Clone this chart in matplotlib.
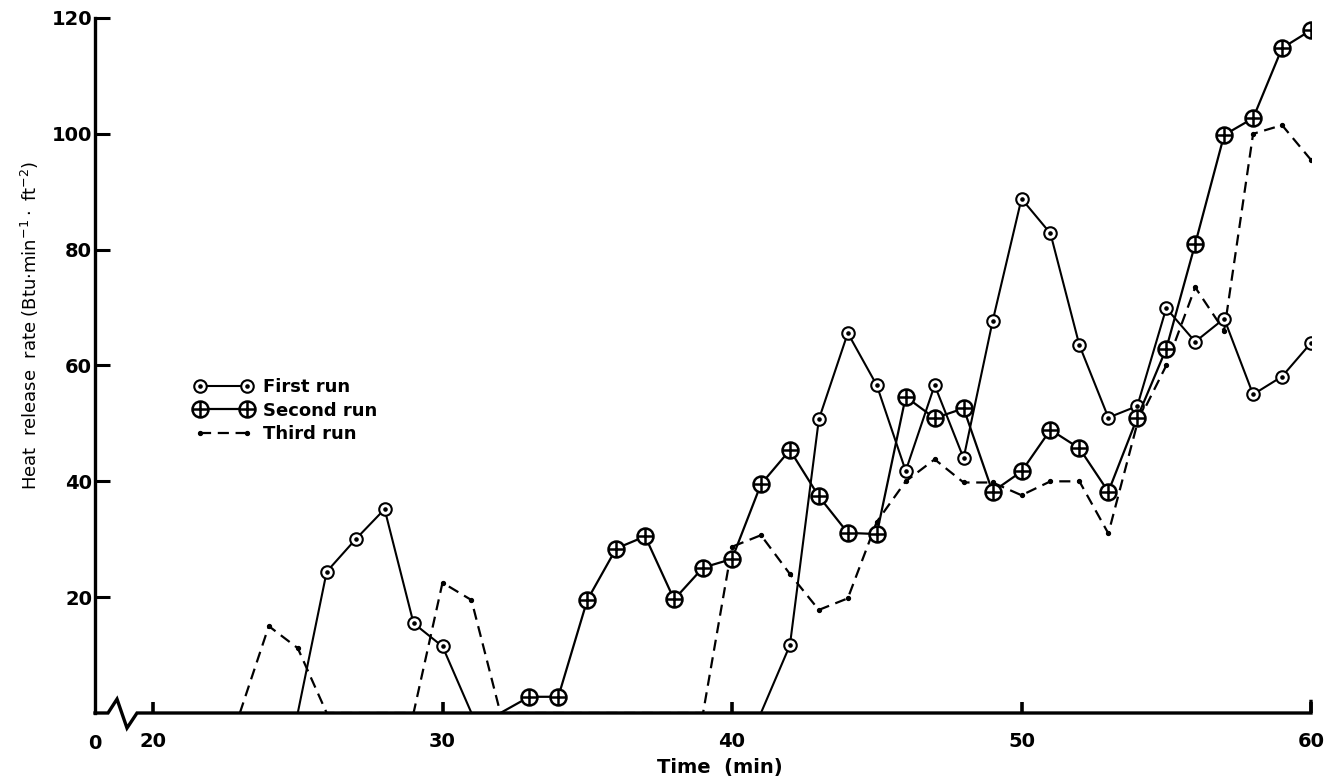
import numpy as np
import matplotlib
matplotlib.use("Agg")
import matplotlib.pyplot as plt
from matplotlib.path import Path

# data (time in min, heat release rate)
t_first = [25, 26, 27, 28, 29, 30, 31, 41, 42, 43, 44, 45, 46, 47, 48, 49, 50,
           51, 52, 53, 54, 55, 56, 57, 58, 59, 60]
v_first = [0, 24.4, 30, 35.2, 15.5, 11.5, 0, 0, 11.7, 50.7, 65.6, 56.6, 41.8, 56.6,
           44, 67.6, 88.8, 82.8, 63.5, 51, 53, 69.9, 64.1, 68.1, 55, 58.1, 63.9]

t_second = [32, 33, 34, 35, 36, 37, 38, 39, 40, 41, 42, 43, 44, 45, 46, 47, 48,
            49, 50, 51, 52, 53, 54, 55, 56, 57, 58, 59, 60]
v_second = [0, 2.8, 2.8, 19.5, 28.4, 30.5, 19.6, 25.1, 26.6, 39.5, 45.4, 37.4, 31.1,
            30.9, 54.6, 50.9, 52.6, 38.2, 41.7, 48.9, 45.7, 38.2, 51, 62.9, 81,
            99.8, 102.7, 114.8, 117.9]

t_third = [23, 24, 25, 26, 29, 30, 31, 32, 39, 40, 41, 42, 43, 44, 45, 46, 47, 48,
           49, 50, 51, 52, 53, 54, 55, 56, 57, 58, 59, 60]
v_third = [0, 15, 11.2, 0, 0, 22.5, 19.5, 0, 0, 28.7, 30.7, 24, 17.8, 19.8, 33, 40,
           43.8, 39.8, 39.8, 37.6, 40, 40, 31, 50, 60, 73.5, 66, 100, 101.5, 95.5]

x_ticks = [20, 30, 40, 50, 60]
y_ticks = [20, 40, 60, 80, 100, 120]

# marker shapes: circle with centre dot, circle with cross
circ = Path.unit_circle()
odot = Path.make_compound_path(circ, Path.circle((0, 0), 0.2))
plus = Path([(-1, 0), (1, 0), (0, -1), (0, 1)],
            [Path.MOVETO, Path.LINETO, Path.MOVETO, Path.LINETO])
oplus = Path.make_compound_path(circ, plus)

plt.rcParams['font.family'] = ['DejaVu Sans']
plt.rcParams['mathtext.default'] = 'regular'

fig = plt.figure(figsize=(13.37, 7.76), dpi=100)
W, H = 1337, 776
x_left, x_right = 95, 1311
y_bot, y_top = 713, 18
ax = fig.add_axes([x_left / W, 1 - y_bot / H, (x_right - x_left) / W, (y_bot - y_top) / H])

px_per_min = (1311 - 153) / 40.0
x0 = 20 - (153 - x_left) / px_per_min
ax.set_xlim(x0, 60)
ax.set_ylim(0, 120)


def nonzero(v):
    return [i for i, val in enumerate(v) if val > 0]


ln3, = ax.plot(t_third, v_third, color='black', lw=1.6, dashes=(5, 3),
               marker='o', ms=2.8, markevery=nonzero(v_third), label='Third run')
ln1, = ax.plot(t_first, v_first, color='black', lw=1.5, marker=odot, ms=9,
               mfc='white', mec='black', mew=1.5, markevery=nonzero(v_first),
               label='First run')
ln2, = ax.plot(t_second, v_second, color='black', lw=1.6, marker=oplus, ms=11.5,
               mfc='white', mec='black', mew=1.8, markevery=nonzero(v_second),
               label='Second run')

# spines and ticks
for s in ['top', 'right', 'bottom']:
    ax.spines[s].set_visible(False)
ax.spines['left'].set_linewidth(2.4)
ax.set_yticks(y_ticks)
ax.set_yticklabels([str(v) for v in y_ticks], fontsize=14, fontweight='bold')
ax.set_xticks(x_ticks)
ax.set_xticklabels([str(v) for v in x_ticks], fontsize=14, fontweight='bold')
ax.tick_params(axis='y', direction='in', length=11, width=2.2, pad=2)
ax.tick_params(axis='x', direction='in', length=8, width=2.6, pad=14)

# broken x axis drawn by hand
def px2t(px):
    return 20 + (px - 153) / px_per_min

zz_x = [x0, px2t(108), px2t(117), px2t(127), px2t(137), 60, 60]
zz_y = [0, 0, 2.4, -2.6, 0, 0, 2.0]
ax.plot(zz_x, zz_y, color='black', lw=2.4, clip_on=False, solid_joinstyle='miter')
ax.text(x0, -3.6, '0', ha='center', va='top', fontsize=14, fontweight='bold')

fig.text(720 / W, 1 - 768 / H, 'Time  (min)', ha='center', va='center',
         fontsize=14, fontweight='bold')
fig.text(30 / W, 1 - 325 / H,
         r'Heat  release  rate (Btu$\cdot$min$^{-1}\cdot$ ft$^{-2}$)',
         ha='center', va='center', rotation=90, fontsize=13)

ax.legend([ln1, ln2, ln3], ['First run', 'Second run', 'Third run'],
          loc='upper left', bbox_to_anchor=(178 / W, 1 - 362 / H),
          bbox_transform=fig.transFigure, frameon=False, numpoints=2,
          handlelength=3.2, handletextpad=0.6, labelspacing=0.3,
          prop={'size': 13, 'weight': 'bold'})

fig.savefig('out.png', dpi=100)
